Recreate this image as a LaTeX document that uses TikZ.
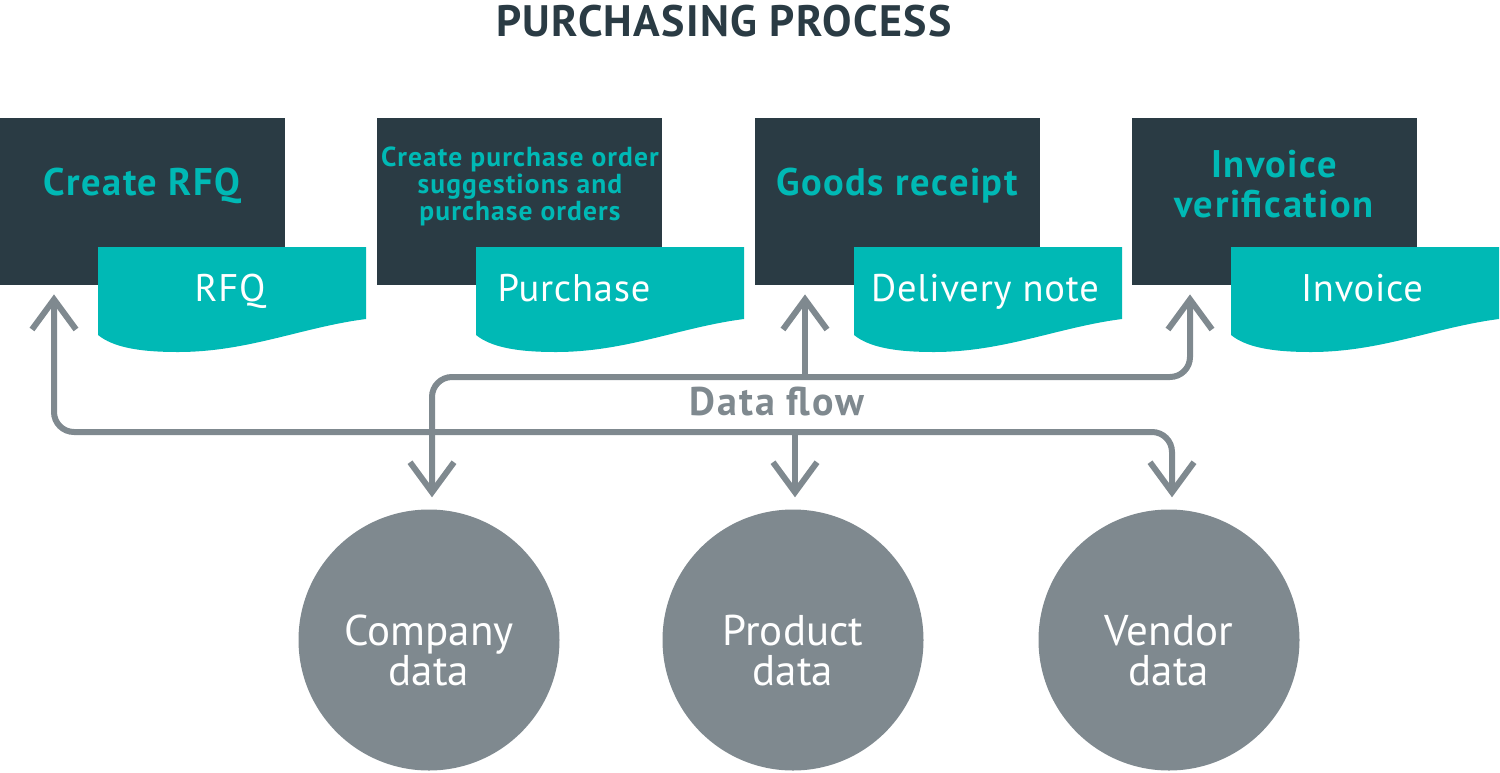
\documentclass[tikz,border=0pt]{standalone}
\usepackage{fontspec}
\setmainfont{PT Sans}
\usetikzlibrary{arrows.meta,calc}
\definecolor{darkc}{HTML}{2A3B44}
\definecolor{tealc}{HTML}{00B9B5}
\definecolor{grayc}{HTML}{7F898F}
\newfontfamily\boldsp[LetterSpace=4]{PT Sans Bold}
\newfontfamily\boldti[LetterSpace=3]{PT Sans Bold}
\newfontfamily\boldfl[LetterSpace=5]{PT Sans Bold}
\newfontfamily\regsp[LetterSpace=2]{PT Sans}
\begin{document}
\begin{tikzpicture}[x=1pt,y=-1pt,
  procbox/.style={fill=darkc,draw=none,minimum width=285pt,minimum height=167pt,inner sep=0pt,anchor=north west},
  boxtext/.style={text=tealc,font=\boldsp\fontsize{38.5}{40}\selectfont,inner sep=0pt,anchor=base},
  doctext/.style={text=white,font=\regsp\fontsize{38.5}{40}\selectfont,inner sep=0pt,anchor=base},
  datanode/.style={circle,fill=grayc,draw=none,minimum size=261pt,inner sep=0pt},
  circtext/.style={text=white,font=\fontsize{43}{40}\selectfont,inner sep=0pt,align=center,anchor=base},
  flow/.style={draw=grayc,line width=6pt,rounded corners=20pt},
  barb/.tip={Straight Barb[length=30pt,width=44pt,line width=6pt]},
  tip/.style={-barb}
]
\useasboundingbox (0,0) rectangle (1500,772);

% title
\node[text=darkc,font=\boldti\fontsize{44}{46}\selectfont,inner sep=0pt,anchor=base] (title) at (724,36) {PURCHASING PROCESS};

% process boxes
\node[procbox] (b1) at (0,118) {};
\node[procbox] (b2) at (377,118) {};
\node[procbox] (b3) at (755,118) {};
\node[procbox] (b4) at (1132,118) {};

% document shapes
\foreach \dx/\nm in {98/d1,476/d2,854/d3,1231/d4}{
  \fill[tealc,shift={(\dx,0)}] (0,247) -- (268,247) -- (268,319)
    .. controls (205,327) and (150,352) .. (80,352)
    .. controls (40,352) and (15,347) .. (0,335) -- cycle;
}

% box texts
\node[boxtext] (t1) at (142,195) {Create RFQ};
\node[text=tealc,font=\boldsp\fontsize{27.5}{27}\selectfont,inner sep=0pt,align=center,anchor=north] (t2) at (520,147) {Create purchase order\\suggestions and\\purchase orders};
\node[boxtext] (t3) at (897,195) {Goods receipt};
\node[boxtext] (t4a) at (1274,177) {Invoice};
\node[boxtext] (t4b) at (1274,217) {verification};

% document texts
\node[doctext] (d1) at (230,301) {RFQ};
\node[doctext] (d2) at (574,301) {Purchase};
\node[doctext] (d3) at (985,301) {Delivery note};
\node[doctext] (d4) at (1362,301) {Invoice};

% data circles
\node[datanode] (c1) at (429,640) {};
\node[datanode] (c2) at (793,640) {};
\node[datanode] (c3) at (1169,640) {};
\node[circtext] (ct1) at (429,685) {Company\\data};
\node[circtext] (ct2) at (793,685) {Product\\data};
\node[circtext] (ct3) at (1169,685) {Vendor\\data};

% data flow label
\node[text=grayc,font=\boldfl\fontsize{40}{42}\selectfont,inner sep=0pt,anchor=base] (df) at (777,415) {Data flow};

% connectors
\coordinate (a1) at ($(b1.south west)+(54,9)$);
\coordinate (a3) at ($(b3.south west)+(50,9)$);
\coordinate (a4) at ($(b4.south west)+(58,9)$);
\coordinate (e1) at ($(c1.north)+(3,-12)$);
\coordinate (e2) at ($(c2.north)+(2,-12)$);
\coordinate (e3) at ($(c3.north)+(3,-12)$);

% lower line: RFQ <-> vendor data
\draw[flow,barb-barb] (a1) -- (a1 |- 0,432) -- (e3 |- 0,432) -- (e3);
% product data
\draw[flow,tip] (e2 |- 0,432) -- (e2);
% upper line: company data <-> invoice
\draw[flow,barb-barb] (e1) -- (e1 |- 0,377) -- (a4 |- 0,377) -- (a4);
% goods receipt
\draw[flow,tip] (a3 |- 0,377) -- (a3);
\end{tikzpicture}
\end{document}
